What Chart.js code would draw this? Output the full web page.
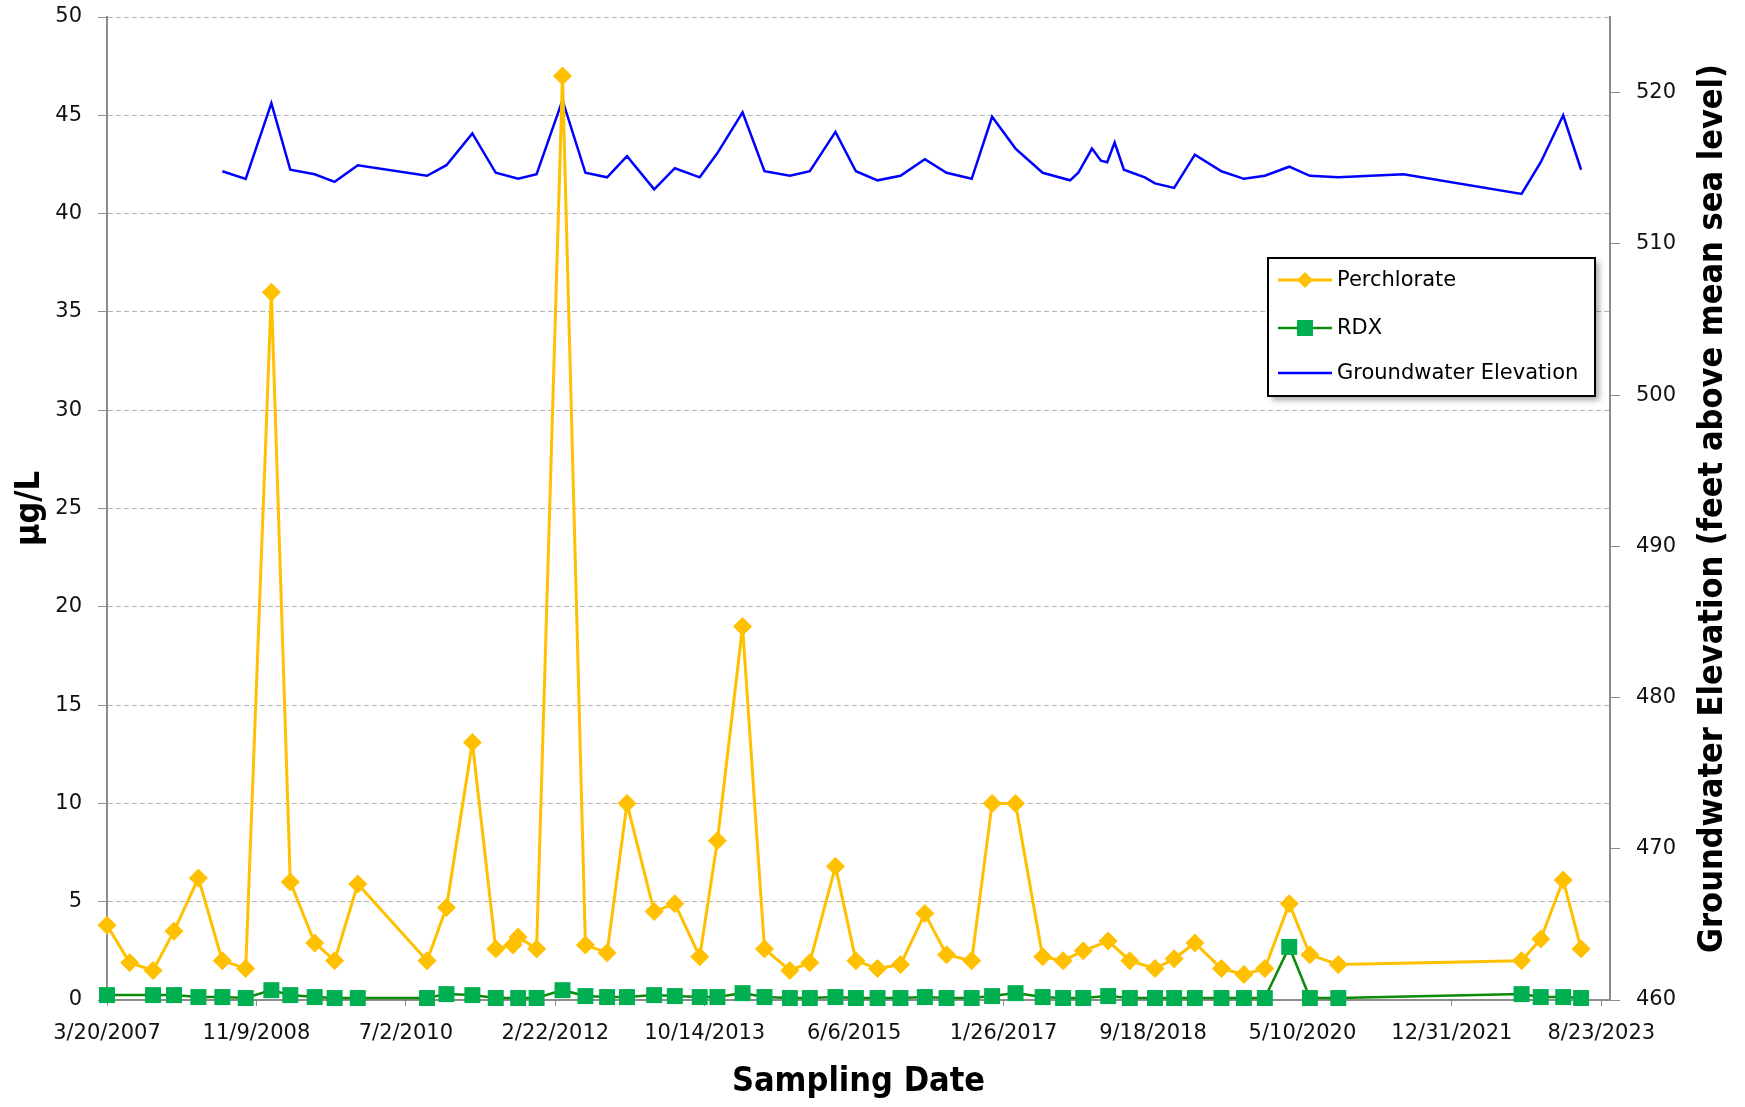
<!DOCTYPE html>
<html>
<head>
<meta charset="utf-8">
<title>Perchlorate, RDX and Groundwater Elevation</title>
<script src="https://cdn.jsdelivr.net/npm/chart.js@4.4.1/dist/chart.umd.min.js"></script>
<style>
  html, body { margin: 0; padding: 0; background: #fff; }
</style>
</head>
<body>
<canvas id="chemChart" width="1745" height="1107"></canvas>
<script>
// sampling dates shared by perchlorate and RDX
const sampleDates = [
  '2007-03-20', '2007-06-19', '2007-09-21', '2007-12-14', '2008-03-21', '2008-06-25',
  '2008-09-27', '2009-01-08', '2009-03-25', '2009-07-01', '2009-09-19', '2009-12-21',
  '2010-09-25', '2010-12-12', '2011-03-26', '2011-06-28', '2011-09-05', '2011-09-26',
  '2011-12-09', '2012-03-22', '2012-06-22', '2012-09-17', '2012-12-06', '2013-03-25',
  '2013-06-16', '2013-09-24', '2013-12-04', '2014-03-15', '2014-06-11', '2014-09-21',
  '2014-12-10', '2015-03-23', '2015-06-13', '2015-09-08', '2015-12-09', '2016-03-16',
  '2016-06-11', '2016-09-20', '2016-12-11', '2017-03-15', '2017-07-02', '2017-09-22',
  '2017-12-12', '2018-03-22', '2018-06-17', '2018-09-26', '2018-12-12', '2019-03-05',
  '2019-06-20', '2019-09-18', '2019-12-11', '2020-03-18', '2020-06-09', '2020-10-01',
  '2022-10-07', '2022-12-23', '2023-03-23', '2023-06-03'
];

const perchlorate = [
  3.8, 1.9, 1.5, 3.5, 6.2, 2.0,
  1.6, 36, 6.0, 2.9, 2.0, 5.9,
  2.0, 4.7, 13.1, 2.6, 2.8, 3.2,
  2.6, 47, 2.8, 2.4, 10.0, 4.5,
  4.9, 2.2, 8.1, 19, 2.6, 1.5,
  1.9, 6.8, 2.0, 1.6, 1.8, 4.4,
  2.3, 2.0, 10.0, 10.0, 2.2, 2.0,
  2.5, 3.0, 2.0, 1.6, 2.1, 2.9,
  1.6, 1.3, 1.6, 4.9, 2.3, 1.8,
  2.0, 3.1, 6.1, 2.6
];

const rdx = [
  0.25, null, 0.25, 0.25, 0.15, 0.15,
  0.1, 0.5, 0.25, 0.15, 0.1, 0.1,
  0.1, 0.3, 0.25, 0.1, null, 0.1,
  0.1, 0.5, 0.2, 0.15, 0.15, 0.25,
  0.2, 0.15, 0.15, 0.35, 0.15, 0.1,
  0.1, 0.15, 0.1, 0.1, 0.1, 0.15,
  0.1, 0.1, 0.2, 0.35, 0.15, 0.1,
  0.1, 0.2, 0.1, 0.1, 0.1, 0.1,
  0.1, 0.1, 0.1, 2.7, 0.1, 0.1,
  0.3, 0.15, 0.15, 0.1
];

const elevationDates = [
  '2008-06-25', '2008-09-27', '2009-01-08', '2009-03-25', '2009-07-01', '2009-09-19',
  '2009-12-21', '2010-09-25', '2010-12-12', '2011-03-26', '2011-06-28', '2011-09-26',
  '2011-12-09', '2012-03-22', '2012-06-22', '2012-09-17', '2012-12-06', '2013-03-25',
  '2013-06-16', '2013-09-24', '2013-12-04', '2014-03-15', '2014-06-11', '2014-09-21',
  '2014-12-10', '2015-03-23', '2015-06-13', '2015-09-08', '2015-12-09', '2016-03-16',
  '2016-06-11', '2016-09-20', '2016-12-11', '2017-03-15', '2017-07-02', '2017-10-20',
  '2017-11-22', '2018-01-16', '2018-02-21', '2018-03-18', '2018-04-17', '2018-05-24',
  '2018-08-16', '2018-09-26', '2018-12-12', '2019-03-05', '2019-06-20', '2019-09-18',
  '2019-12-11', '2020-03-18', '2020-06-09', '2020-10-01', '2021-06-20', '2022-10-07',
  '2022-12-23', '2023-03-23', '2023-06-03'
];

const elevation = [
  514.8, 514.3, 519.3, 514.9, 514.6, 514.1,
  515.2, 514.5, 515.2, 517.3, 514.7, 514.3,
  514.6, 519.5, 514.7, 514.4, 515.8, 513.6,
  515.0, 514.4, 516.0, 518.7, 514.8, 514.5,
  514.8, 517.4, 514.8, 514.2, 514.5, 515.6,
  514.7, 514.3, 518.4, 516.3, 514.7, 514.2,
  514.7, 516.3, 515.5, 515.4, 516.7, 514.9,
  514.4, 514.0, 513.7, 515.9, 514.8, 514.3,
  514.5, 515.1, 514.5, 514.4, 514.6, 513.3,
  515.4, 518.5, 514.9
];

// date axis ticks (every 600 days)
const xTickDates = [
  '2007-03-20', '2008-11-09', '2010-07-02', '2012-02-22', '2013-10-14', '2015-06-06',
  '2017-01-26', '2018-09-18', '2020-05-10', '2021-12-31', '2023-08-23'
];

const origin = Date.UTC(2007, 2, 20);
const DAY = 86400000;
const toDay = s => {
  const [y, m, d] = s.split('-').map(Number);
  return (Date.UTC(y, m - 1, d) - origin) / DAY;
};
const fmtDate = v => {
  const dt = new Date(origin + v * DAY);
  return (dt.getUTCMonth() + 1) + '/' + dt.getUTCDate() + '/' + dt.getUTCFullYear();
};

const axisGray = '#8c8c8c';
const gridGray = '#b4b4b4';
const tickFont = { family: 'DejaVu Sans', size: 21 };
const titleFont = 'bold 34px "DejaVu Sans Condensed", "DejaVu Sans", sans-serif';

// fixed axis box sizes, no extra label padding
const fixWidth = w => scale => {
  scale.width = w;
  scale.paddingTop = 0;
  scale.paddingBottom = 0;
};

// titles and legend drawn on top of the chart
const overlay = {
  id: 'overlay',
  afterDraw(chart) {
    const { ctx, chartArea: a } = chart;
    const midY = (a.top + a.bottom) / 2;
    ctx.save();
    ctx.fillStyle = '#000';
    ctx.font = titleFont;
    ctx.textAlign = 'center';
    ctx.textBaseline = 'middle';
    ctx.fillText('Sampling Date', (a.left + a.right) / 2, 1082);

    ctx.save();
    ctx.translate(30, midY);
    ctx.rotate(-Math.PI / 2);
    ctx.fillText('μg/L', 0, 0);
    ctx.restore();

    ctx.save();
    ctx.translate(1713, midY);
    ctx.rotate(-Math.PI / 2);
    ctx.fillText('Groundwater Elevation (feet above mean sea level)', 0, 0);
    ctx.restore();

    // legend box
    const bx = 1268, by = 258, bw = 327, bh = 138;
    ctx.save();
    ctx.shadowColor = 'rgba(0,0,0,0.35)';
    ctx.shadowBlur = 6;
    ctx.shadowOffsetX = 4;
    ctx.shadowOffsetY = 4;
    ctx.fillStyle = '#fff';
    ctx.fillRect(bx, by, bw, bh);
    ctx.restore();
    ctx.lineWidth = 2;
    ctx.strokeStyle = '#000';
    ctx.strokeRect(bx, by, bw, bh);

    const rows = [280, 328, 373];
    chart.data.datasets.forEach((ds, i) => {
      const y = rows[i];
      ctx.strokeStyle = ds.borderColor;
      ctx.lineWidth = ds.borderWidth;
      ctx.beginPath();
      ctx.moveTo(1278, y);
      ctx.lineTo(1332, y);
      ctx.stroke();
      ctx.fillStyle = ds.pointBackgroundColor || ds.borderColor;
      if (ds.pointStyle === 'rectRot') {
        const r = 8;
        ctx.beginPath();
        ctx.moveTo(1305 - r, y);
        ctx.lineTo(1305, y - r);
        ctx.lineTo(1305 + r, y);
        ctx.lineTo(1305, y + r);
        ctx.closePath();
        ctx.fill();
      } else if (ds.pointStyle === 'rect') {
        ctx.fillRect(1305 - 8, y - 8, 16, 16);
      }
      ctx.fillStyle = '#000';
      ctx.font = '21px "DejaVu Sans", sans-serif';
      ctx.textAlign = 'left';
      ctx.textBaseline = 'middle';
      ctx.fillText(ds.label, 1337, y + 1);
    });
    ctx.restore();
  }
};

const ctx = document.getElementById('chemChart').getContext('2d');
new Chart(ctx, {
  type: 'line',
  data: {
    datasets: [
      {
        label: 'Perchlorate',
        data: sampleDates.map((d, i) => ({ x: toDay(d), y: perchlorate[i] })),
        borderColor: '#ffc000',
        backgroundColor: '#ffc000',
        pointBackgroundColor: '#ffc000',
        pointBorderColor: '#ffc000',
        borderWidth: 3,
        pointStyle: 'rectRot',
        pointRadius: 9,
        pointBorderWidth: 1,
        yAxisID: 'y',
        clip: false
      },
      {
        label: 'RDX',
        data: sampleDates.map((d, i) => ({ x: toDay(d), y: rdx[i] })),
        borderColor: '#0b8a0b',
        backgroundColor: '#00b050',
        pointBackgroundColor: '#00b050',
        pointBorderColor: '#00b050',
        borderWidth: 2.5,
        pointStyle: 'rect',
        pointRadius: 11.3,
        pointBorderWidth: 0,
        spanGaps: true,
        yAxisID: 'y',
        clip: false
      },
      {
        label: 'Groundwater Elevation',
        data: elevationDates.map((d, i) => ({ x: toDay(d), y: elevation[i] })),
        borderColor: '#0000ff',
        backgroundColor: '#0000ff',
        borderWidth: 2.5,
        pointRadius: 0,
        yAxisID: 'y1'
      }
    ]
  },
  options: {
    responsive: false,
    animation: false,
    devicePixelRatio: 1,
    layout: { padding: { top: 17, left: 0, right: 0, bottom: 0 } },
    plugins: {
      legend: { display: false },
      tooltip: { enabled: false }
    },
    scales: {
      x: {
        type: 'linear',
        min: 0,
        max: 6035,
        afterBuildTicks: scale => {
          scale.ticks = xTickDates.map(d => ({ value: toDay(d) }));
        },
        afterFit: scale => { scale.height = 107; },
        ticks: {
          callback: v => fmtDate(v),
          font: tickFont,
          color: '#111',
          padding: 15,
          maxRotation: 0,
          autoSkip: false
        },
        grid: { drawOnChartArea: false, drawTicks: true, tickLength: 6, color: axisGray, tickColor: axisGray },
        border: { color: axisGray, width: 2 }
      },
      y: {
        position: 'left',
        min: 0,
        max: 50,
        afterFit: fixWidth(107),
        ticks: { stepSize: 5, font: tickFont, color: '#111', padding: 16 },
        grid: { color: gridGray, lineWidth: 1, tickLength: 9, tickColor: axisGray, borderDash: [5, 3] },
        border: { color: axisGray, width: 2, dash: [5, 3] }
      },
      y1: {
        position: 'right',
        min: 460,
        max: 525,
        afterFit: fixWidth(135),
        ticks: { stepSize: 10, includeBounds: false, font: tickFont, color: '#111', padding: 16 },
        grid: { drawOnChartArea: false, tickLength: 10, color: axisGray, tickColor: axisGray },
        border: { color: axisGray, width: 2 }
      }
    }
  },
  plugins: [overlay]
});
</script>
</body>
</html>
